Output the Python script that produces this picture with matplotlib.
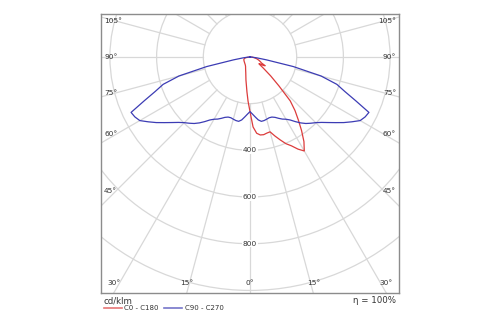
import numpy as np
import matplotlib
matplotlib.use("Agg")
import matplotlib.pyplot as plt
from matplotlib.patches import Circle

# ---- data (cd/klm vs gamma angle in degrees) ----
c0_gamma = [0, 2.5, 5, 7.5, 10, 12.5, 15, 17.5, 20, 22.5, 25, 27.5, 30, 32.5, 35,
            37.5, 40, 42.5, 45, 47.5, 50, 52.5, 55, 57.5, 60, 62.5, 65, 70, 75, 80, 85, 90]
c0_vals = [234, 300, 328, 337, 338, 334, 332, 355, 378, 402, 420, 445, 465, 430, 385,
           340, 300, 255, 175, 120, 75, 48, 50, 68, 75, 55, 50, 40, 30, 18, 8, 0]
c180_gamma = [0, 2.5, 5, 10, 15, 20, 25, 30, 40, 50, 60, 70, 80, 90]
c180_vals = [234, 190, 150, 100, 70, 55, 45, 40, 35, 32, 30, 28, 20, 0]
c90_gamma = [0, 2.5, 5, 7.5, 10, 12.5, 15, 17.5, 20, 22.5, 25, 27.5, 30, 32.5, 35,
             37.5, 40, 42.5, 45, 47.5, 50, 52.5, 55, 57.5, 60, 62.5, 65, 67.5, 70,
             72.5, 75, 77.5, 80, 82.5, 85, 90]
c90_vals = [234, 245, 258, 272, 280, 279, 276, 273, 274, 280, 290, 300, 308, 320, 338,
            356, 372, 385, 398, 415, 437, 462, 490, 517, 545, 556, 562, 490, 432,
            390, 315, 190, 72, 30, 10, 0]

radial_ticks = [200, 400, 600, 800, 1000, 1200]
radial_labels = [400, 600, 800]
side_angles = [45, 60, 75, 90, 105]
bottom_angles = [-30, -15, 0, 15, 30]
series_names = ["C0 - C180", "C90 - C270"]
unit_text = "cd/klm"
eta_text = "\u03b7 = 100%"

RED = "#dc3c3c"
BLUE = "#3c3cb4"
GRID = "#d8d8d8"

fig = plt.figure(figsize=(5, 3.25), dpi=100)
ax = fig.add_axes([101 / 500, 1 - 293 / 325, 298 / 500, 279 / 325])
XMAX = 638
YMIN, YMAX = -1011, 184
ax.set_xlim(-XMAX, XMAX)
ax.set_ylim(YMIN, YMAX)
ax.set_aspect("equal")
ax.set_xticks([])
ax.set_yticks([])
for s in ax.spines.values():
    s.set_color("#8c8c8c")
    s.set_linewidth(1.0)

# grid circles
for r in radial_ticks:
    ax.add_patch(Circle((0, 0), r, fill=False, ec=GRID, lw=0.9, zorder=1))
# rays from the inner circle outward
for a in range(0, 360, 15):
    t = np.radians(a)
    ax.plot([200 * np.sin(t), 1400 * np.sin(t)], [-200 * np.cos(t), -1400 * np.cos(t)],
            color=GRID, lw=0.9, zorder=1)


def side_xy(gam, vals, sign):
    g = np.radians(np.asarray(gam, float))
    v = np.asarray(vals, float)
    return sign * v * np.sin(g), -v * np.cos(g)


# red: C180 (left) then C0 (right)
xl, yl = side_xy(c180_gamma, c180_vals, -1)
xr, yr = side_xy(c0_gamma, c0_vals, 1)
xred = np.concatenate([xl[::-1], xr])
yred = np.concatenate([yl[::-1], yr])
ax.plot(xred, yred, color=RED, lw=0.9, zorder=3, solid_joinstyle="round")

xl, yl = side_xy(c90_gamma, c90_vals, -1)
xr, yr = side_xy(c90_gamma, c90_vals, 1)
xb = np.concatenate([xl[::-1], xr])
yb = np.concatenate([yl[::-1], yr])
ax.plot(xb, yb, color=BLUE, lw=0.9, zorder=4, solid_joinstyle="round")

fs = 5.3
# radial labels
for r in radial_labels:
    ax.text(0, -r, str(r), ha="center", va="center", fontsize=fs, color="#333333",
            zorder=5, bbox=dict(boxstyle="square,pad=0.1", fc="white", ec="none"))

# side angle labels
px = (2 * XMAX) / 298.0
for a in side_angles:
    t = np.radians(a)
    y = -0.9 * XMAX * np.cos(t) / np.sin(t)
    ax.text(-XMAX + 3 * px, y, f"{a}\u00b0", ha="left", va="center", fontsize=fs,
            color="#333333", zorder=5)
    ax.text(XMAX - 3 * px, y, f"{a}\u00b0", ha="right", va="center", fontsize=fs,
            color="#333333", zorder=5)
# bottom angle labels
for a in bottom_angles:
    t = np.radians(a)
    x = -YMIN * np.tan(t)
    ax.text(x, YMIN + 10 * px, f"{abs(a)}\u00b0", ha="center", va="center", fontsize=fs,
            color="#333333", zorder=5)

# legend area
fig.text(104 / 500, 1 - 300.5 / 325, unit_text, fontsize=6.2, color="#333333",
         ha="left", va="center")
fig.text(396 / 500, 1 - 300.5 / 325, eta_text, fontsize=6.2, color="#333333",
         ha="right", va="center")
ly = 1 - 308 / 325
fig.add_artist(plt.Line2D([104 / 500, 122 / 500], [ly, ly], color=RED, lw=1.2, alpha=0.7))
fig.text(124.5 / 500, ly, series_names[0], fontsize=5.0, color="#333333", ha="left", va="center")
fig.add_artist(plt.Line2D([164 / 500, 182 / 500], [ly, ly], color=BLUE, lw=1.2, alpha=0.7))
fig.text(185 / 500, ly, series_names[1], fontsize=5.0, color="#333333", ha="left", va="center")

fig.savefig("out.png", dpi=100)
